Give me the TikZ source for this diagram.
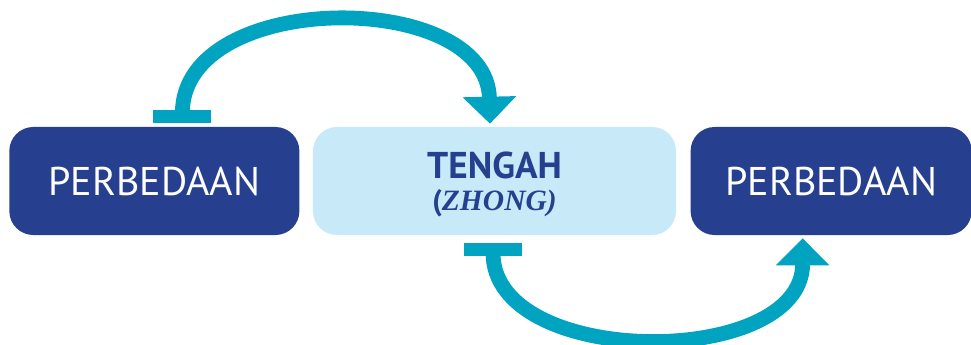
\documentclass[tikz,border=0pt]{standalone}
\usepackage{fontspec}
\setmainfont{PT Sans}
\newfontfamily\zhongfont{Liberation Serif}
\usetikzlibrary{arrows.meta,positioning}
\definecolor{darkblue}{RGB}{38,64,143}
\definecolor{paleblue}{RGB}{199,233,248}
\definecolor{loopteal}{RGB}{0,164,193}
\tikzset{
    dark-box/.style = {fill=darkblue, text=white, rectangle, rounded corners=0.6cm, minimum height=2.7cm, inner sep=0pt, font=\fontsize{28.5}{34}\selectfont},
    pale-box/.style = {fill=paleblue, text=darkblue, rectangle, rounded corners=0.6cm, minimum height=2.7cm, minimum width=9.075cm, inner sep=0pt, align=center, text depth=0pt, font=\bfseries\fontsize{26.5}{23}\selectfont},
    loop-arrow/.style = {draw=loopteal, line width=0.37cm, arrows={Bar[width=1.45cm,line width=0.32cm]-Triangle[width=1.3cm,length=0.675cm]}},
}

\begin{document}
\begin{tikzpicture}[x=0.025cm, y=0.025cm]
\useasboundingbox (0,0) rectangle (971,344);
\node[pale-box] (mid) at (494.5,163) {TENGAH\\{\fontsize{21}{23}\selectfont(\zhongfont\itshape ZHONG\/)}};
\node[dark-box, minimum width=7.25cm, left=0.325cm of mid] (lft) {PERBEDAAN};
\node[dark-box, minimum width=7.025cm, right=0.35cm of mid] (rgt) {PERBEDAAN};
% end points of the two loops
\coordinate (top-start) at ([shift={(28,4)}]lft.north);
\coordinate (top-end) at ([shift={(-4.5,3)}]mid.north);
\coordinate (low-start) at ([shift={(-1.5,-8)}]mid.south);
\coordinate (low-end) at ([shift={(-28.5,-3)}]rgt.south);
\draw[loop-arrow] (top-start) .. controls +(0,134) and +(-3,135) .. (top-end);
\draw[loop-arrow] (low-start) .. controls +(0,-126) and +(0,-131) .. (low-end);
\end{tikzpicture}
\end{document}
